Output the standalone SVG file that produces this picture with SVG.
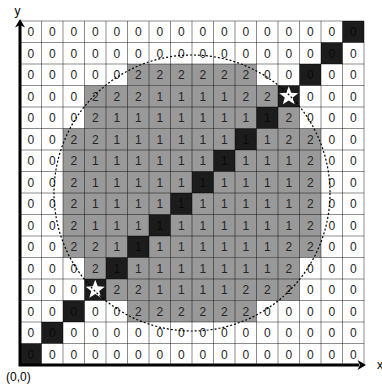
<svg xmlns="http://www.w3.org/2000/svg" width="382" height="385" viewBox="0 0 382 385">
<style>
.t{font-family:"Liberation Sans",Arial,sans-serif;font-size:12px;fill:#262626;text-anchor:middle}
.k{fill:#0a0a0a}
.g{fill:#999999}
.b{fill:#1c1c1c}
.grid{fill:none;stroke:#000;stroke-opacity:0.45;stroke-width:1}
.axis{stroke:#000;stroke-width:3;fill:none}
.lbl{font-family:"Liberation Sans",Arial,sans-serif;font-size:12px;fill:#000}
</style>
<defs>
<polygon id="star" points="0,-10 2.5,-3.4 9.51,-3.09 4,1.3 5.88,8.09 0,4.2 -5.88,8.09 -4,1.3 -9.51,-3.09 -2.5,-3.4" fill="#fff"/>
</defs>
<rect x="0" y="0" width="382" height="385" fill="#fff"/>
<g id="gray-region">
<rect class="g" x="127.5" y="64" width="129" height="21.5"/>
<rect class="g" x="84.5" y="85.5" width="193.5" height="21.5"/>
<rect class="g" x="84.5" y="107" width="215" height="21.5"/>
<rect class="g" x="63" y="128.5" width="258" height="129"/>
<rect class="g" x="84.5" y="257.5" width="215" height="21.5"/>
<rect class="g" x="106" y="279" width="193.5" height="21.5"/>
<rect class="g" x="127.5" y="300.5" width="129" height="21.5"/>
</g>
<g id="diagonal">
<rect class="b" x="342.5" y="21" width="21.5" height="21.5"/>
<rect class="b" x="321" y="42.5" width="21.5" height="21.5"/>
<rect class="b" x="299.5" y="64" width="21.5" height="21.5"/>
<rect class="b" x="278" y="85.5" width="21.5" height="21.5"/>
<rect class="b" x="256.5" y="107" width="21.5" height="21.5"/>
<rect class="b" x="235" y="128.5" width="21.5" height="21.5"/>
<rect class="b" x="213.5" y="150" width="21.5" height="21.5"/>
<rect class="b" x="192" y="171.5" width="21.5" height="21.5"/>
<rect class="b" x="170.5" y="193" width="21.5" height="21.5"/>
<rect class="b" x="149" y="214.5" width="21.5" height="21.5"/>
<rect class="b" x="127.5" y="236" width="21.5" height="21.5"/>
<rect class="b" x="106" y="257.5" width="21.5" height="21.5"/>
<rect class="b" x="84.5" y="279" width="21.5" height="21.5"/>
<rect class="b" x="63" y="300.5" width="21.5" height="21.5"/>
<rect class="b" x="41.5" y="322" width="21.5" height="21.5"/>
<rect class="b" x="20" y="343.5" width="21.5" height="21.5"/>
</g>
<path id="grid-lines" class="grid" d="M20,21V365M41.5,21V365M63,21V365M84.5,21V365M106,21V365M127.5,21V365M149,21V365M170.5,21V365M192,21V365M213.5,21V365M235,21V365M256.5,21V365M278,21V365M299.5,21V365M321,21V365M342.5,21V365M364,21V365M20,21H364M20,42.5H364M20,64H364M20,85.5H364M20,107H364M20,128.5H364M20,150H364M20,171.5H364M20,193H364M20,214.5H364M20,236H364M20,257.5H364M20,279H364M20,300.5H364M20,322H364M20,343.5H364M20,365H364"/>
<g id="stars">
<use href="#star" x="288.75" y="96.25"/>
<use href="#star" x="95.25" y="289.75"/>
</g>
<g id="values" class="t">
<g id="row0" transform="translate(0,36.05)"><text x="30.75">0</text><text x="52.25">0</text><text x="73.75">0</text><text x="95.25">0</text><text x="116.75">0</text><text x="138.25">0</text><text x="159.75">0</text><text x="181.25">0</text><text x="202.75">0</text><text x="224.25">0</text><text x="245.75">0</text><text x="267.25">0</text><text x="288.75">0</text><text x="310.25">0</text><text x="331.75">0</text><text class="k" x="353.25">0</text></g>
<g id="row1" transform="translate(0,57.55)"><text x="30.75">0</text><text x="52.25">0</text><text x="73.75">0</text><text x="95.25">0</text><text x="116.75">0</text><text x="138.25">0</text><text x="159.75">0</text><text x="181.25">0</text><text x="202.75">0</text><text x="224.25">0</text><text x="245.75">0</text><text x="267.25">0</text><text x="288.75">0</text><text x="310.25">0</text><text class="k" x="331.75">0</text><text x="353.25">0</text></g>
<g id="row2" transform="translate(0,79.05)"><text x="30.75">0</text><text x="52.25">0</text><text x="73.75">0</text><text x="95.25">0</text><text x="116.75">0</text><text x="138.25">2</text><text x="159.75">2</text><text x="181.25">2</text><text x="202.75">2</text><text x="224.25">2</text><text x="245.75">2</text><text x="267.25">0</text><text x="288.75">0</text><text class="k" x="310.25">0</text><text x="331.75">0</text><text x="353.25">0</text></g>
<g id="row3" transform="translate(0,100.55)"><text x="30.75">0</text><text x="52.25">0</text><text x="73.75">0</text><text x="95.25">2</text><text x="116.75">2</text><text x="138.25">2</text><text x="159.75">1</text><text x="181.25">1</text><text x="202.75">1</text><text x="224.25">1</text><text x="245.75">2</text><text x="267.25">2</text><text x="310.25">0</text><text x="331.75">0</text><text x="353.25">0</text></g>
<g id="row4" transform="translate(0,122.05)"><text x="30.75">0</text><text x="52.25">0</text><text x="73.75">0</text><text x="95.25">2</text><text x="116.75">1</text><text x="138.25">1</text><text x="159.75">1</text><text x="181.25">1</text><text x="202.75">1</text><text x="224.25">1</text><text x="245.75">1</text><text class="k" x="267.25">1</text><text x="288.75">2</text><text x="310.25">0</text><text x="331.75">0</text><text x="353.25">0</text></g>
<g id="row5" transform="translate(0,143.55)"><text x="30.75">0</text><text x="52.25">0</text><text x="73.75">2</text><text x="95.25">2</text><text x="116.75">1</text><text x="138.25">1</text><text x="159.75">1</text><text x="181.25">1</text><text x="202.75">1</text><text x="224.25">1</text><text class="k" x="245.75">1</text><text x="267.25">1</text><text x="288.75">2</text><text x="310.25">2</text><text x="331.75">0</text><text x="353.25">0</text></g>
<g id="row6" transform="translate(0,165.05)"><text x="30.75">0</text><text x="52.25">0</text><text x="73.75">2</text><text x="95.25">1</text><text x="116.75">1</text><text x="138.25">1</text><text x="159.75">1</text><text x="181.25">1</text><text x="202.75">1</text><text class="k" x="224.25">1</text><text x="245.75">1</text><text x="267.25">1</text><text x="288.75">1</text><text x="310.25">2</text><text x="331.75">0</text><text x="353.25">0</text></g>
<g id="row7" transform="translate(0,186.55)"><text x="30.75">0</text><text x="52.25">0</text><text x="73.75">2</text><text x="95.25">1</text><text x="116.75">1</text><text x="138.25">1</text><text x="159.75">1</text><text x="181.25">1</text><text class="k" x="202.75">1</text><text x="224.25">1</text><text x="245.75">1</text><text x="267.25">1</text><text x="288.75">1</text><text x="310.25">2</text><text x="331.75">0</text><text x="353.25">0</text></g>
<g id="row8" transform="translate(0,208.05)"><text x="30.75">0</text><text x="52.25">0</text><text x="73.75">2</text><text x="95.25">1</text><text x="116.75">1</text><text x="138.25">1</text><text x="159.75">1</text><text class="k" x="181.25">1</text><text x="202.75">1</text><text x="224.25">1</text><text x="245.75">1</text><text x="267.25">1</text><text x="288.75">1</text><text x="310.25">2</text><text x="331.75">0</text><text x="353.25">0</text></g>
<g id="row9" transform="translate(0,229.55)"><text x="30.75">0</text><text x="52.25">0</text><text x="73.75">2</text><text x="95.25">1</text><text x="116.75">1</text><text x="138.25">1</text><text class="k" x="159.75">1</text><text x="181.25">1</text><text x="202.75">1</text><text x="224.25">1</text><text x="245.75">1</text><text x="267.25">1</text><text x="288.75">1</text><text x="310.25">2</text><text x="331.75">0</text><text x="353.25">0</text></g>
<g id="row10" transform="translate(0,251.05)"><text x="30.75">0</text><text x="52.25">0</text><text x="73.75">2</text><text x="95.25">2</text><text x="116.75">1</text><text class="k" x="138.25">1</text><text x="159.75">1</text><text x="181.25">1</text><text x="202.75">1</text><text x="224.25">1</text><text x="245.75">1</text><text x="267.25">1</text><text x="288.75">2</text><text x="310.25">2</text><text x="331.75">0</text><text x="353.25">0</text></g>
<g id="row11" transform="translate(0,272.55)"><text x="30.75">0</text><text x="52.25">0</text><text x="73.75">0</text><text x="95.25">2</text><text class="k" x="116.75">1</text><text x="138.25">1</text><text x="159.75">1</text><text x="181.25">1</text><text x="202.75">1</text><text x="224.25">1</text><text x="245.75">1</text><text x="267.25">1</text><text x="288.75">2</text><text x="310.25">0</text><text x="331.75">0</text><text x="353.25">0</text></g>
<g id="row12" transform="translate(0,294.05)"><text x="30.75">0</text><text x="52.25">0</text><text x="73.75">0</text><text x="116.75">2</text><text x="138.25">2</text><text x="159.75">1</text><text x="181.25">1</text><text x="202.75">1</text><text x="224.25">1</text><text x="245.75">2</text><text x="267.25">2</text><text x="288.75">2</text><text x="310.25">0</text><text x="331.75">0</text><text x="353.25">0</text></g>
<g id="row13" transform="translate(0,315.55)"><text x="30.75">0</text><text x="52.25">0</text><text class="k" x="73.75">0</text><text x="95.25">0</text><text x="116.75">0</text><text x="138.25">2</text><text x="159.75">2</text><text x="181.25">2</text><text x="202.75">2</text><text x="224.25">2</text><text x="245.75">2</text><text x="267.25">0</text><text x="288.75">0</text><text x="310.25">0</text><text x="331.75">0</text><text x="353.25">0</text></g>
<g id="row14" transform="translate(0,337.05)"><text x="30.75">0</text><text class="k" x="52.25">0</text><text x="73.75">0</text><text x="95.25">0</text><text x="116.75">0</text><text x="138.25">0</text><text x="159.75">0</text><text x="181.25">0</text><text x="202.75">0</text><text x="224.25">0</text><text x="245.75">0</text><text x="267.25">0</text><text x="288.75">0</text><text x="310.25">0</text><text x="331.75">0</text><text x="353.25">0</text></g>
<g id="row15" transform="translate(0,358.55)"><text class="k" x="30.75">0</text><text x="52.25">0</text><text x="73.75">0</text><text x="95.25">0</text><text x="116.75">0</text><text x="138.25">0</text><text x="159.75">0</text><text x="181.25">0</text><text x="202.75">0</text><text x="224.25">0</text><text x="245.75">0</text><text x="267.25">0</text><text x="288.75">0</text><text x="310.25">0</text><text x="331.75">0</text><text x="353.25">0</text></g>
</g>
<circle id="circle" cx="192" cy="193" r="138" fill="none" stroke="#000" stroke-width="1.2" stroke-dasharray="2 2"/>
<g id="axes">
<path class="axis" d="M20,366.5V25M18.5,365H359"/>
<polygon points="20,19 15,27.5 20,25 25,27.5" fill="#000"/>
<polygon points="366,365 357.5,360 360,365 357.5,370" fill="#000"/>
<text class="lbl" x="14.5" y="15" font-size="13">y</text>
<text class="lbl" x="377" y="369">x</text>
<text class="lbl" x="6" y="381">(0,0)</text>
</g>
</svg>
